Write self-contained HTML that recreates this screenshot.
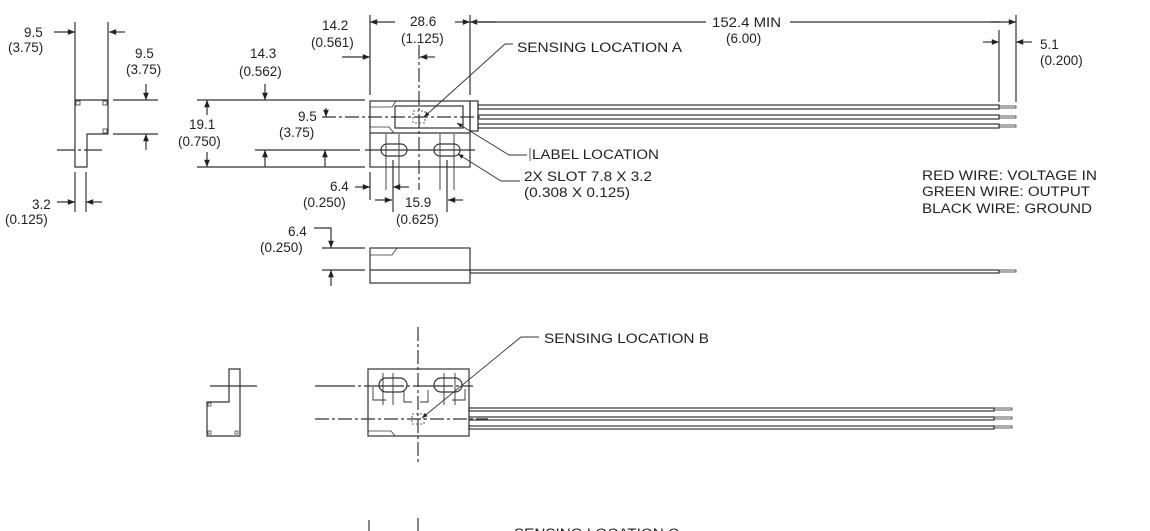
<!DOCTYPE html>
<html><head><meta charset="utf-8"><style>
html,body{margin:0;padding:0;background:#fff;}
svg{display:block}
text{font-family:"Liberation Sans",sans-serif;font-size:13.5px;fill:#222;}
</style></head><body>
<svg width="1150" height="531" viewBox="0 0 1150 531" xmlns="http://www.w3.org/2000/svg">
<defs>
<marker id="a" viewBox="0 0 10 10" refX="10" refY="5" markerWidth="8" markerHeight="6" orient="auto-start-reverse"><path d="M0,1 L10,5 L0,9 z" fill="#222"/></marker>
</defs>
<g stroke="#333" stroke-width="1.2" fill="none">
<line x1="75" y1="22" x2="75" y2="100"/><line x1="108" y1="22" x2="108" y2="100"/>
<path d="M75,100 H108 V134 H87 V167 H75 Z"/>
<rect x="76" y="101" width="4" height="4" stroke-width="0.8"/><rect x="103" y="101" width="4" height="4" stroke-width="0.8"/><rect x="103" y="129" width="4" height="4" stroke-width="0.8"/>
<line x1="57" y1="150" x2="105" y2="150" stroke-dasharray="18,3,3,3"/>
<line x1="54" y1="32" x2="75" y2="32" marker-end="url(#a)"/>
<line x1="125" y1="32" x2="109" y2="32" marker-end="url(#a)"/>
<line x1="113" y1="100" x2="158" y2="100"/><line x1="113" y1="134" x2="158" y2="134"/>
<line x1="146" y1="84" x2="146" y2="100" marker-end="url(#a)"/>
<line x1="146" y1="150" x2="146" y2="134" marker-end="url(#a)"/>
<line x1="75" y1="172" x2="75" y2="212"/><line x1="86" y1="172" x2="86" y2="212"/>
<line x1="57" y1="202" x2="75" y2="202" marker-end="url(#a)"/>
<line x1="102" y1="202" x2="86" y2="202" marker-end="url(#a)"/>
<line x1="197" y1="100" x2="365" y2="100"/><line x1="197" y1="167" x2="365" y2="167"/>
<line x1="255" y1="150" x2="360" y2="150"/>
<line x1="207" y1="115" x2="207" y2="100" marker-end="url(#a)"/>
<line x1="207" y1="152" x2="207" y2="167" marker-end="url(#a)"/>
<line x1="265" y1="84" x2="265" y2="100" marker-end="url(#a)"/>
<line x1="265" y1="167" x2="265" y2="150" marker-end="url(#a)"/>
<line x1="325" y1="167" x2="325" y2="150" marker-end="url(#a)"/>
<line x1="326" y1="108" x2="326" y2="117" marker-end="url(#a)"/>
<line x1="322" y1="117" x2="482" y2="117" stroke-dasharray="14,3,3,3"/>
<line x1="419" y1="45" x2="419" y2="190" stroke-dasharray="14,3,3,3"/>
<rect x="370" y="101" width="100" height="66"/>
<line x1="370" y1="133" x2="470" y2="133"/>
<path d="M370,107 H392 L396,101 M370,127 H389 L394,133" stroke-width="0.8"/>
<rect x="395" y="106" width="68" height="22"/>
<rect x="413" y="111" width="12" height="12" stroke-dasharray="2,2" stroke-width="0.8"/>
<rect x="470" y="101" width="8" height="30"/>
<rect x="381" y="144" width="26" height="12" rx="6"/><rect x="434" y="144" width="26" height="12" rx="6"/>
<path d="M386,134 V190 M399,134 V190 M440,134 V190 M454,134 V190" stroke-width="0.9"/>
<line x1="365" y1="150" x2="475" y2="150"/>
<line x1="370" y1="15" x2="370" y2="95"/><line x1="470" y1="15" x2="470" y2="95"/>
<line x1="395" y1="22" x2="370" y2="22" marker-end="url(#a)"/>
<line x1="455" y1="22" x2="470" y2="22" marker-end="url(#a)"/>
<line x1="342" y1="57" x2="370" y2="57" marker-end="url(#a)"/>
<line x1="435" y1="57" x2="420" y2="57" marker-end="url(#a)"/>
<line x1="370" y1="172" x2="370" y2="200"/>
<line x1="355" y1="187" x2="370" y2="187" marker-end="url(#a)"/>
<line x1="409" y1="187" x2="393" y2="187" marker-end="url(#a)"/>
<line x1="393" y1="160" x2="393" y2="212"/><line x1="447" y1="160" x2="447" y2="212"/>
<line x1="375" y1="200" x2="392" y2="200" marker-end="url(#a)"/>
<line x1="463" y1="200" x2="448" y2="200" marker-end="url(#a)"/>
<line x1="496" y1="22" x2="470" y2="22" marker-end="url(#a)"/>
<line x1="470" y1="22" x2="706" y2="22"/><line x1="790" y1="22" x2="1000" y2="22"/>
<line x1="990" y1="22" x2="1016" y2="22" marker-end="url(#a)"/>
<line x1="1016" y1="15" x2="1016" y2="102"/><line x1="999" y1="30" x2="999" y2="102"/>
<line x1="983" y1="42" x2="999" y2="42" marker-end="url(#a)"/>
<line x1="1032" y1="42" x2="1016" y2="42" marker-end="url(#a)"/>
<rect x="478" y="105" width="521" height="4"/><rect x="478" y="115" width="521" height="4"/><rect x="478" y="124" width="521" height="4"/>
<rect x="999" y="106" width="17" height="2" stroke-width="0.8"/><rect x="999" y="116" width="17" height="2" stroke-width="0.8"/><rect x="999" y="125" width="17" height="2" stroke-width="0.8"/>
<path d="M513,44 H505 L424,117" stroke-width="0.9" marker-end="url(#a)"/>
<path d="M527,155 H509 L457,123" stroke-width="0.9" marker-end="url(#a)"/>
<line x1="530" y1="148" x2="530" y2="161" stroke-width="0.8"/>
<path d="M520,181 H501 L458,154" stroke-width="0.9" marker-end="url(#a)"/>
<rect x="370" y="248" width="100" height="35"/>
<line x1="370" y1="270" x2="470" y2="270"/>
<path d="M370,255 H392 L397,248" stroke-width="0.8"/>
<rect x="470" y="270" width="529" height="3"/>
<rect x="999" y="270" width="17" height="2" stroke-width="0.8"/>
<path d="M314,228 H331 V248" marker-end="url(#a)"/>
<line x1="322" y1="248" x2="365" y2="248"/><line x1="322" y1="270" x2="365" y2="270"/>
<line x1="331" y1="286" x2="331" y2="270" marker-end="url(#a)"/>
<path d="M229,369 H240 V436 H207 V402 H229 Z"/>
<rect x="208" y="403" width="3" height="3" stroke-width="0.7"/><rect x="208" y="431" width="3" height="3" stroke-width="0.7"/><rect x="235" y="431" width="3" height="3" stroke-width="0.7"/>
<line x1="210" y1="386" x2="257" y2="386"/>
<line x1="315" y1="386" x2="473" y2="386" stroke-dasharray="40,3,3,3"/>
<line x1="315" y1="419" x2="488" y2="419" stroke-dasharray="14,3,3,3"/>
<line x1="418" y1="327" x2="418" y2="462" stroke-dasharray="14,3,3,3"/>
<rect x="368" y="369" width="101" height="67"/>
<rect x="379" y="378" width="28" height="14" rx="7"/><rect x="434" y="378" width="28" height="14" rx="7"/>
<path d="M373,387 V400 H386 M404,390 V402 H412 M428,390 V402 H420 M465,389 V400 H452" stroke-width="0.9"/>
<path d="M383,373 V405 M393,373 V405 M444,373 V405 M455,373 V405" stroke-width="0.9"/>
<rect x="412" y="414" width="12" height="10" stroke-dasharray="2,2" stroke-width="0.8"/>
<path d="M368,431 H391 L395,436" stroke-width="0.8"/>
<rect x="469" y="408" width="525" height="3"/><rect x="469" y="417" width="525" height="3"/><rect x="469" y="426" width="525" height="3"/>
<rect x="994" y="408" width="18" height="2" stroke-width="0.8"/><rect x="994" y="417" width="18" height="2" stroke-width="0.8"/><rect x="994" y="426" width="18" height="2" stroke-width="0.8"/>
<path d="M539,337 H521 L422,418" stroke-width="0.9" marker-end="url(#a)"/>
<line x1="369" y1="520" x2="369" y2="531"/><line x1="418" y1="518" x2="418" y2="531"/>
</g>
<text x="24" y="37">9.5</text><text x="8" y="52">(3.75)</text>
<text x="135" y="58">9.5</text><text x="126" y="74">(3.75)</text>
<text x="32" y="209">3.2</text><text x="5" y="224">(0.125)</text>
<text x="250" y="58">14.3</text><text x="239" y="76">(0.562)</text>
<text x="189" y="129">19.1</text><text x="178" y="146">(0.750)</text>
<text x="298" y="121">9.5</text><text x="279" y="137">(3.75)</text>
<text x="322" y="30">14.2</text><text x="311" y="47">(0.561)</text>
<text x="410" y="26">28.6</text><text x="401" y="43">(1.125)</text>
<text x="330" y="191">6.4</text><text x="303" y="207">(0.250)</text>
<text x="405" y="207">15.9</text><text x="396" y="224">(0.625)</text>
<text x="288" y="236">6.4</text><text x="260" y="252">(0.250)</text>
<text x="712" y="27" textLength="69" lengthAdjust="spacingAndGlyphs">152.4 MIN</text><text x="726" y="43">(6.00)</text>
<text x="1040" y="49">5.1</text><text x="1040" y="65">(0.200)</text>
<text x="517" y="52" textLength="165" lengthAdjust="spacingAndGlyphs">SENSING LOCATION A</text>
<text x="532" y="159" textLength="127" lengthAdjust="spacingAndGlyphs">LABEL LOCATION</text>
<text x="524" y="181" textLength="128" lengthAdjust="spacingAndGlyphs">2X SLOT 7.8 X 3.2</text><text x="524" y="197" textLength="106" lengthAdjust="spacingAndGlyphs">(0.308 X 0.125)</text>
<text x="922" y="180" textLength="175" lengthAdjust="spacingAndGlyphs">RED WIRE: VOLTAGE IN</text>
<text x="922" y="196" textLength="168" lengthAdjust="spacingAndGlyphs">GREEN WIRE: OUTPUT</text>
<text x="922" y="213" textLength="170" lengthAdjust="spacingAndGlyphs">BLACK WIRE: GROUND</text>
<text x="544" y="343" textLength="165" lengthAdjust="spacingAndGlyphs">SENSING LOCATION B</text>
<text x="514" y="538" textLength="165" lengthAdjust="spacingAndGlyphs">SENSING LOCATION C</text>
</svg>
</body></html>
